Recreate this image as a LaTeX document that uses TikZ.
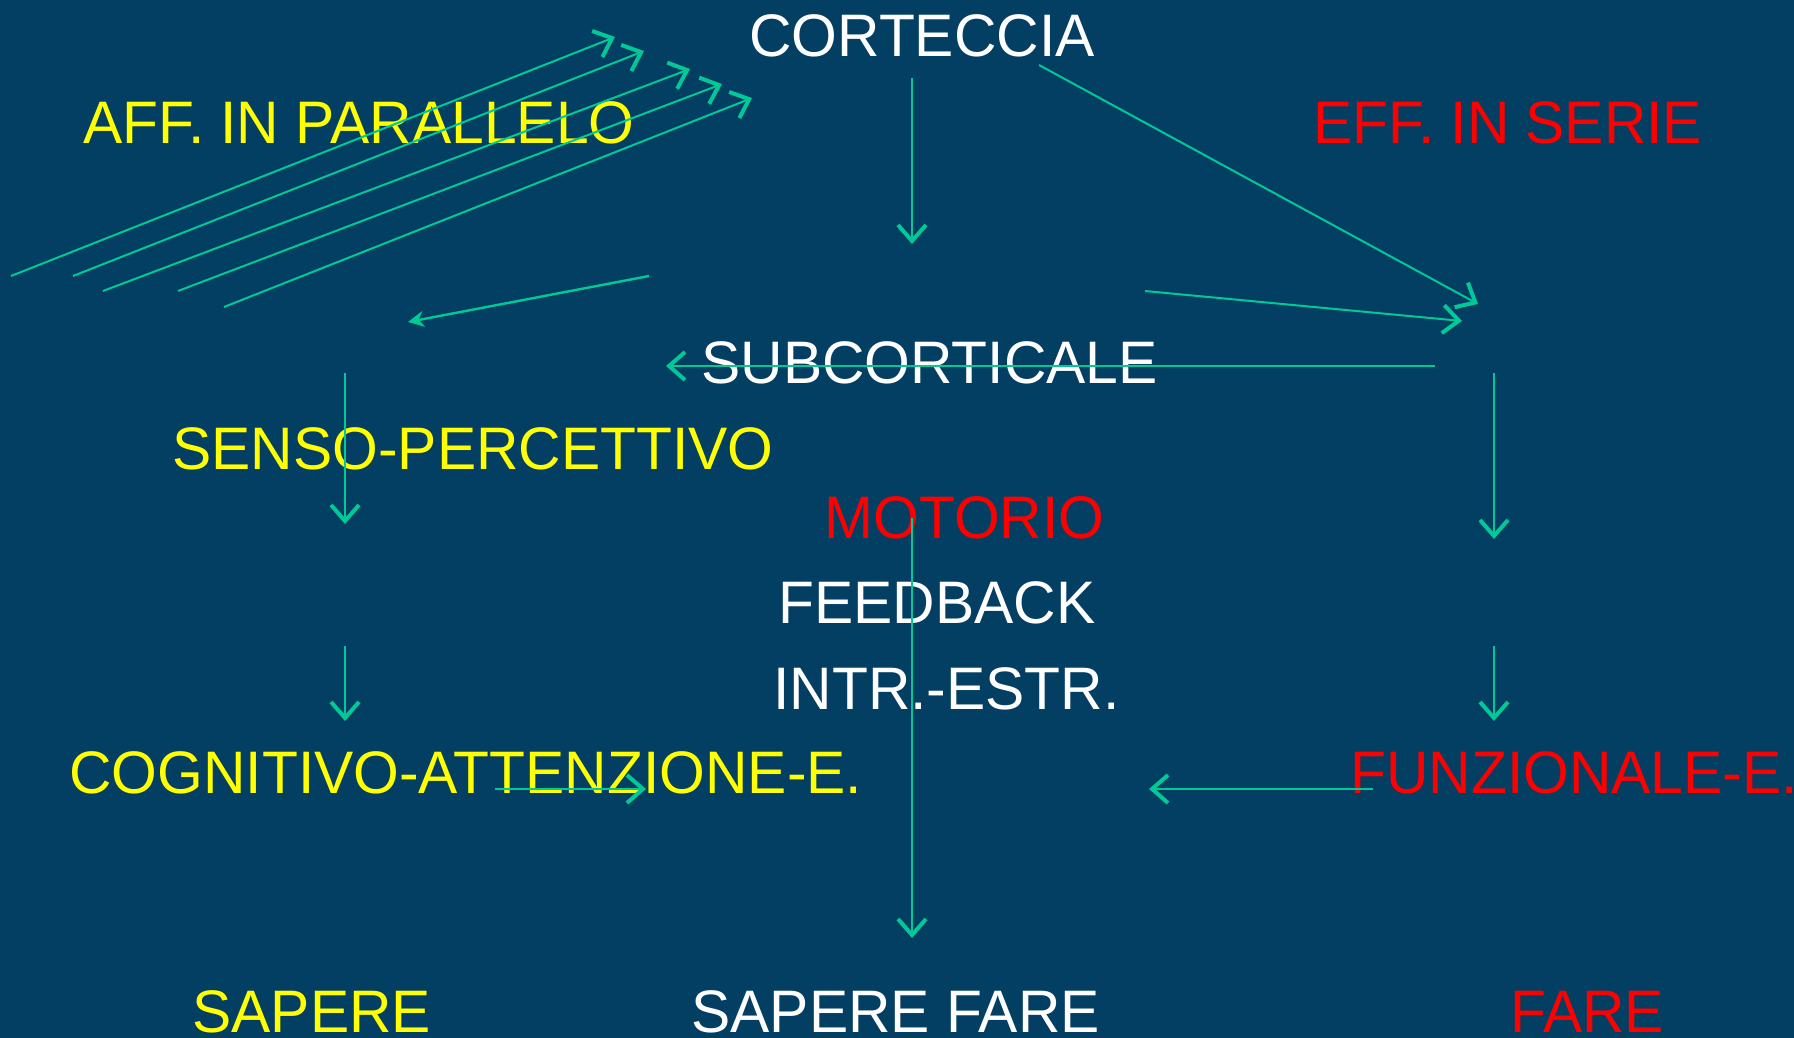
\documentclass[tikz,border=0pt]{standalone}
\usepackage{fontspec}
\setmainfont{Liberation Sans}[FakeStretch=0.98]
\usetikzlibrary{arrows.meta}
\definecolor{bg}{HTML}{033F63}
\definecolor{arr}{HTML}{00C896}
\definecolor{ylw}{HTML}{FFFF00}
\definecolor{rd}{HTML}{FF0000}
\tikzset{
  lbl/.style={anchor=base west, inner sep=0pt, font=\fontsize{30}{36}\selectfont},
  conn/.style={draw=arr, line width=1pt, -{Straight Barb[length=8pt,width=14pt,line width=2pt]}},
  connf/.style={draw=arr, line width=1.2pt, -{Stealth[length=8pt,width=8pt]}}
}
\begin{document}
\begin{tikzpicture}[x=0.5pt,y=-0.5pt]
\fill[bg] (0,0) rectangle (1794,1038);
\useasboundingbox (0,0) rectangle (1794,1038);
% labels
\node[lbl, white] (cort) at (749,57) {CORTECCIA};
\node[lbl, ylw] (aff) at (83,143) {AFF. IN PARALLELO};
\node[lbl, rd] (eff) at (1313,143) {EFF. IN SERIE};
\node[lbl, white] (sub) at (701,383) {SUBCORTICALE};
\node[lbl, ylw] (senso) at (172,469) {SENSO-PERCETTIVO};
\node[lbl, rd] (mot) at (824,538) {MOTORIO};
\node[lbl, white] (feed) at (778,623) {FEEDBACK};
\node[lbl, white] (intr) at (773,709) {INTR.-ESTR.};
\node[lbl, ylw] (cogn) at (69,793) {COGNITIVO-ATTENZIONE-E.};
\node[lbl, rd] (funz) at (1350,793) {FUNZIONALE-E.};
\node[lbl, ylw] (sap) at (192,1032) {SAPERE};
\node[lbl, white] (sapf) at (691,1032) {SAPERE FARE};
\node[lbl, rd] (fare) at (1510,1032) {FARE};
% coordinates
\coordinate (p1a) at (11,276);  \coordinate (p1b) at (615,37);
\coordinate (p2a) at (73,276);  \coordinate (p2b) at (644,51);
\coordinate (p3a) at (103,291); \coordinate (p3b) at (690,69);
\coordinate (p4a) at (178,291); \coordinate (p4b) at (722,84);
\coordinate (p5a) at (224,307); \coordinate (p5b) at (752,98);
\coordinate (c1a) at (912,78);  \coordinate (c1b) at (912,244);
\coordinate (c2a) at (1039,65); \coordinate (c2b) at (1478,304);
\coordinate (l1a) at (649,276); \coordinate (l1b) at (408,322);
\coordinate (r1a) at (1145,291);\coordinate (r1b) at (1462,321);
\coordinate (h1a) at (1435,366);\coordinate (h1b) at (666,366);
\coordinate (v1a) at (345,373); \coordinate (v1b) at (345,524);
\coordinate (v2a) at (345,646); \coordinate (v2b) at (345,721);
\coordinate (v3a) at (1494,373);\coordinate (v3b) at (1494,539);
\coordinate (v4a) at (1494,646);\coordinate (v4b) at (1494,721);
\coordinate (v5a) at (912,518); \coordinate (v5b) at (912,938);
\coordinate (h2a) at (495,789); \coordinate (h2b) at (646,789);
\coordinate (h3a) at (1373,789);\coordinate (h3b) at (1149,789);
% connectors
\draw[conn] (p1a) -- (p1b);
\draw[conn] (p2a) -- (p2b);
\draw[conn] (p3a) -- (p3b);
\draw[conn] (p4a) -- (p4b);
\draw[conn] (p5a) -- (p5b);
\draw[conn] (c1a) -- (c1b);
\draw[conn] (c2a) -- (c2b);
\draw[connf] (l1a) -- (l1b);
\draw[conn] (r1a) -- (r1b);
\draw[conn] (h1a) -- (h1b);
\draw[conn] (v1a) -- (v1b);
\draw[conn] (v2a) -- (v2b);
\draw[conn] (v3a) -- (v3b);
\draw[conn] (v4a) -- (v4b);
\draw[conn] (v5a) -- (v5b);
\draw[conn] (h2a) -- (h2b);
\draw[conn] (h3a) -- (h3b);
\end{tikzpicture}
\end{document}
